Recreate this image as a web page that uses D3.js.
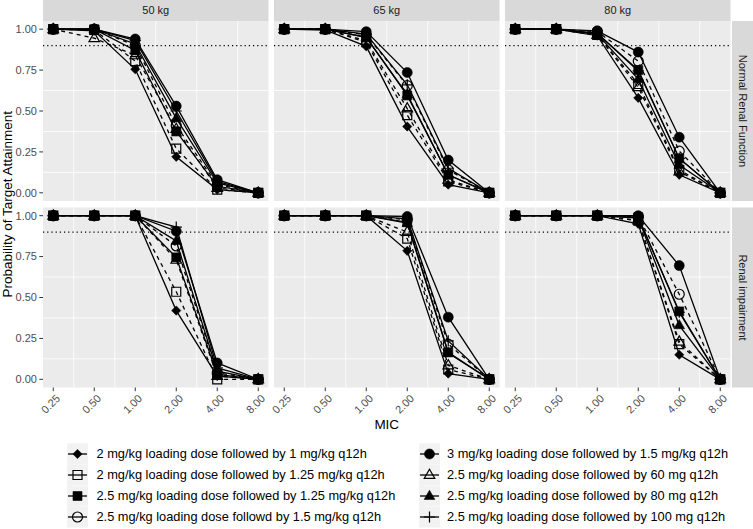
<!DOCTYPE html>
<html>
<head>
<meta charset="utf-8">
<script src="https://cdn.jsdelivr.net/npm/d3@7"></script>
<style>
  body { margin: 0; background: #fff; }
  svg { display: block; font-family: "Liberation Sans", Arial, sans-serif; }
</style>
</head>
<body>
<svg id="chart" width="753" height="529"></svg>
<script>
// ---------------- data ----------------
const mic = [0.25, 0.5, 1, 2, 4, 8];
const micLabels = ["0.25", "0.50", "1.00", "2.00", "4.00", "8.00"];
const weights = ["50 kg", "65 kg", "80 kg"];
const renalGroups = ["Normal Renal Function", "Renal impairment"];
const yTicks = [0, 0.25, 0.5, 0.75, 1];
const yTickLabels = ["0.00", "0.25", "0.50", "0.75", "1.00"];
const targetLine = 0.9;
const regimens = [
  "2 mg/kg loading dose followed by 1 mg/kg q12h",
  "2 mg/kg loading dose followed by 1.25 mg/kg q12h",
  "2.5 mg/kg loading dose followed by 1.25 mg/kg q12h",
  "2.5 mg/kg loading dose followd by 1.5 mg/kg q12h",
  "3 mg/kg loading dose followed by 1.5 mg/kg q12h",
  "2.5 mg/kg loading dose followed by 60 mg q12h",
  "2.5 mg/kg loading dose followed by 80 mg q12h",
  "2.5 mg/kg loading dose followed by 100 mg q12h"
];
// rows follow regimen order, columns follow mic order
const normal50 = [
  [1, 0.99, 0.755, 0.22, 0.02, 0],
  [1, 0.995, 0.805, 0.27, 0.02, 0],
  [1, 1, 0.87, 0.375, 0.04, 0],
  [1, 1, 0.90, 0.41, 0.05, 0],
  [1, 1, 0.94, 0.53, 0.08, 0],
  [1, 0.945, 0.84, 0.39, 0.03, 0],
  [1, 1, 0.91, 0.455, 0.06, 0],
  [1, 1, 0.93, 0.50, 0.07, 0]
];
const normal65 = [
  [1, 0.995, 0.895, 0.405, 0.05, 0],
  [1, 1, 0.92, 0.475, 0.07, 0],
  [1, 1, 0.95, 0.595, 0.11, 0],
  [1, 1, 0.965, 0.655, 0.14, 0],
  [1, 1, 0.985, 0.735, 0.20, 0],
  [1, 1, 0.93, 0.515, 0.08, 0],
  [1, 1, 0.95, 0.60, 0.11, 0],
  [1, 1, 0.97, 0.66, 0.15, 0]
];
const normal80 = [
  [1, 1, 0.96, 0.58, 0.11, 0],
  [1, 1, 0.965, 0.665, 0.14, 0],
  [1, 1, 0.975, 0.75, 0.21, 0],
  [1, 1, 0.985, 0.805, 0.255, 0],
  [1, 1, 0.99, 0.86, 0.34, 0],
  [1, 1, 0.965, 0.645, 0.13, 0],
  [1, 1, 0.97, 0.695, 0.17, 0],
  [1, 1, 0.975, 0.745, 0.21, 0]
];
const renal50 = [
  [1, 1, 1, 0.42, 0.02, 0],
  [1, 1, 1, 0.535, 0.0, 0],
  [1, 1, 1, 0.745, 0.03, 0],
  [1, 1, 1, 0.815, 0.04, 0],
  [1, 1, 1, 0.905, 0.10, 0],
  [1, 1, 1, 0.73, 0.02, 0],
  [1, 1, 1, 0.845, 0.05, 0],
  [1, 1, 1, 0.93, 0.07, 0]
];
const renal65 = [
  [1, 1, 1, 0.785, 0.035, 0],
  [1, 1, 1, 0.86, 0.06, 0],
  [1, 1, 1, 0.96, 0.165, 0],
  [1, 1, 1, 0.975, 0.215, 0],
  [1, 1, 1, 0.995, 0.38, 0],
  [1, 1, 1, 0.90, 0.085, 0],
  [1, 1, 1, 0.955, 0.16, 0],
  [1, 1, 1, 0.98, 0.235, 0]
];
const renal80 = [
  [1, 1, 1, 0.95, 0.15, 0],
  [1, 1, 1, 0.97, 0.215, 0],
  [1, 1, 1, 0.99, 0.415, 0],
  [1, 1, 1, 0.995, 0.52, 0],
  [1, 1, 1, 1, 0.695, 0],
  [1, 1, 1, 0.97, 0.23, 0],
  [1, 1, 1, 0.985, 0.33, 0],
  [1, 1, 1, 0.99, 0.41, 0]
];
const panelData = [[normal50, normal65, normal80], [renal50, renal65, renal80]];

// ---------------- styles ----------------
const shapeKinds = ["diamond", "square", "square", "circle", "circle", "triangle", "triangle", "cross"];
const shapeFilled = [true, false, true, false, true, false, true, false];
const dashed = [false, true, false, true, false, true, false, false];

const svg = d3.select("#chart");
const panelLefts = [43, 274, 505];
const panelW = 225.5;
const panelTops = [21, 207.5];
const panelH = 180;
const stripH = 21;
const lineW = 1.3;

const x = d3.scaleLog().base(2)
  .domain([0.25 / Math.pow(2, 0.25), 8 * Math.pow(2, 0.25)])
  .range([0, panelW]);
const y = d3.scaleLinear().domain([-0.05, 1.05]).range([panelH, 0]);

function shapePath(kind) {
  const p = d3.path();
  if (kind === "diamond") {
    const r = 4.6;
    p.moveTo(0, -r); p.lineTo(r, 0); p.lineTo(0, r); p.lineTo(-r, 0); p.closePath();
  } else if (kind === "square") {
    const h = 4.5;
    p.rect(-h, -h, 2 * h, 2 * h);
  } else if (kind === "circle") {
    p.arc(0, 0, 5, 0, 2 * Math.PI);
  } else if (kind === "triangle") {
    p.moveTo(0, -5.8); p.lineTo(5.3, 3.4); p.lineTo(-5.3, 3.4); p.closePath();
  } else if (kind === "cross") {
    const r = 5.6;
    p.moveTo(-r, 0); p.lineTo(r, 0); p.moveTo(0, -r); p.lineTo(0, r);
  }
  return p.toString();
}
function drawShape(g, i, cx, cy) {
  const filled = shapeFilled[i];
  g.append("path")
    .attr("d", shapePath(shapeKinds[i]))
    .attr("transform", `translate(${cx},${cy})`)
    .attr("fill", filled ? "#000" : "none")
    .attr("stroke", "#000")
    .attr("stroke-width", filled ? 0.6 : 1.2);
}

const minorX = d3.range(mic.length - 1).map(i => Math.sqrt(mic[i] * mic[i + 1]));
const minorY = [0.125, 0.375, 0.625];

const line = d3.line().x((d, i) => x(mic[i])).y(d => y(d));

renalGroups.forEach((rg, r) => {
  weights.forEach((w, c) => {
    const g = svg.append("g").attr("transform", `translate(${panelLefts[c]},${panelTops[r]})`);
    g.append("rect").attr("width", panelW).attr("height", panelH).attr("fill", "#EBEBEB");
    minorX.forEach(v => g.append("line")
      .attr("x1", x(v)).attr("x2", x(v)).attr("y1", 0).attr("y2", panelH)
      .attr("stroke", "#fff").attr("stroke-width", 0.8));
    minorY.forEach(v => g.append("line")
      .attr("x1", 0).attr("x2", panelW).attr("y1", y(v)).attr("y2", y(v))
      .attr("stroke", "#fff").attr("stroke-width", 0.8));
    // target line
    g.append("line")
      .attr("x1", 0).attr("x2", panelW).attr("y1", y(targetLine)).attr("y2", y(targetLine))
      .attr("stroke", "#000").attr("stroke-width", 1.2).attr("stroke-dasharray", "1.2,3");

    const data = panelData[r][c];
    data.forEach((series, i) => {
      g.append("path").attr("d", line(series))
        .attr("fill", "none").attr("stroke", "#000").attr("stroke-width", lineW)
        .attr("stroke-dasharray", dashed[i] ? "4,4" : null);
    });
    data.forEach((series, i) => {
      series.forEach((v, j) => drawShape(g, i, x(mic[j]), y(v)));
    });

    // x axis (bottom row only)
    if (r === 1) {
      const ax = g.append("g").attr("transform", `translate(0,${panelH})`);
      mic.forEach((m, j) => {
        ax.append("line").attr("x1", x(m)).attr("x2", x(m)).attr("y1", 0).attr("y2", 3.7)
          .attr("stroke", "#333").attr("stroke-width", 1);
        ax.append("text")
          .attr("transform", `translate(${x(m) + 2},${6}) rotate(-45)`)
          .attr("text-anchor", "end").attr("dy", "0.72em")
          .attr("font-size", 11).attr("fill", "#4D4D4D")
          .text(micLabels[j]);
      });
    }
    // y axis (left col only)
    if (c === 0) {
      yTicks.forEach((t, j) => {
        g.append("line").attr("x1", -3.7).attr("x2", 0).attr("y1", y(t)).attr("y2", y(t))
          .attr("stroke", "#333").attr("stroke-width", 1);
        g.append("text").attr("x", -6).attr("y", y(t)).attr("dy", "0.35em")
          .attr("text-anchor", "end").attr("font-size", 11).attr("fill", "#4D4D4D")
          .text(yTickLabels[j]);
      });
    }
    // top strips
    if (r === 0) {
      svg.append("rect").attr("x", panelLefts[c]).attr("y", 0).attr("width", panelW).attr("height", stripH)
        .attr("fill", "#D9D9D9");
      svg.append("text").attr("x", panelLefts[c] + panelW / 2).attr("y", stripH / 2).attr("dy", "0.35em")
        .attr("text-anchor", "middle").attr("font-size", 11).attr("fill", "#1A1A1A").text(w);
    }
  });
  // right strips
  const sx = panelLefts[2] + panelW + 1.5;
  svg.append("rect").attr("x", sx).attr("y", panelTops[r]).attr("width", 753 - sx).attr("height", panelH)
    .attr("fill", "#D9D9D9");
  svg.append("text")
    .attr("transform", `translate(${sx + (753 - sx) / 2},${panelTops[r] + panelH / 2}) rotate(90)`)
    .attr("dy", "0.35em").attr("text-anchor", "middle").attr("font-size", 11).attr("fill", "#1A1A1A")
    .text(rg);
});

// axis titles
svg.append("text").attr("x", (panelLefts[0] + panelLefts[2] + panelW) / 2).attr("y", 429)
  .attr("text-anchor", "middle").attr("font-size", 13.5).attr("fill", "#000").text("MIC");
svg.append("text")
  .attr("transform", `translate(12,${(panelTops[0] + panelTops[1] + panelH) / 2}) rotate(-90)`)
  .attr("text-anchor", "middle").attr("font-size", 13.5).attr("fill", "#000")
  .text("Probability of Target Attainment");

// legend
const legCols = [{ kx: 68, tx: 96.5 }, { kx: 420, tx: 447 }];
const keyW = 19, rowH = 21, legTop = 443.5;
regimens.forEach((lab, i) => {
  const col = legCols[Math.floor(i / 4)];
  const row = i % 4;
  const cy = legTop + row * rowH + rowH / 2;
  const lg = svg.append("g");
  lg.append("rect").attr("x", col.kx - 1).attr("y", legTop + row * rowH).attr("width", keyW + 2).attr("height", rowH)
    .attr("fill", "#F2F2F2");
  lg.append("line").attr("x1", col.kx).attr("x2", col.kx + keyW).attr("y1", cy).attr("y2", cy)
    .attr("stroke", "#000").attr("stroke-width", lineW);
  drawShape(lg, i, col.kx + keyW / 2, cy);
  lg.append("text").attr("x", col.tx).attr("y", cy).attr("dy", "0.35em")
    .attr("font-size", 12.8).attr("fill", "#000").text(lab);
});
</script>
</body>
</html>
